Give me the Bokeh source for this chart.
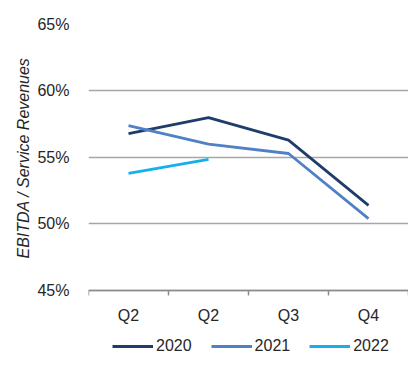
from bokeh.plotting import figure
from bokeh.models import FixedTicker, Legend, LegendItem, Range1d, Title
from bokeh.embed import file_html
from bokeh.resources import INLINE

categories = ["Q2", "Q2", "Q3", "Q4"]
s2020 = [56.8, 58.0, 56.3, 51.4]
s2021 = [57.4, 56.0, 55.3, 50.4]
s2022 = [53.8, 54.85]
years = ["2020", "2021", "2022"]
colors = ["#1F3D6B", "#4F81C4", "#14B0EE"]
y_ticks = [45, 50, 55, 60, 65]
y_label = "EBITDA / Service Revenues"

xs = [i + 0.5 for i in range(len(categories))]

# frame extends below the 45% axis to hold the category labels and legend
p = figure(frame_width=320, frame_height=343, output_backend="svg", toolbar_location=None,
           x_range=Range1d(0, len(categories)), y_range=Range1d(39.21, 65),
           min_border_left=88, min_border_right=0, min_border_top=24, min_border_bottom=0)
p.outline_line_color = None
p.background_fill_color = "white"
p.border_fill_color = "white"

renderers = []
for name, vals, c in zip(years, [s2020, s2021, s2022], colors):
    r = p.line(xs[:len(vals)], vals, line_color=c, line_width=2.8)
    renderers.append((name, r))

# y axis
p.yaxis.ticker = FixedTicker(ticks=y_ticks)
p.yaxis.major_label_overrides = {t: f"{t}%" for t in y_ticks}
p.yaxis.axis_line_color = None
p.yaxis.major_tick_line_color = None
p.yaxis.minor_tick_line_color = None
p.yaxis.major_tick_out = 0
p.yaxis.major_label_standoff = 19
p.yaxis.major_label_text_font = "Liberation Sans"
p.yaxis.major_label_text_font_size = "16px"
p.yaxis.major_label_text_color = "#262626"
p.ygrid.grid_line_color = "#A6A6A6"
p.ygrid.grid_line_width = 1.5

p.add_layout(Title(text=y_label, align="left", offset=109, standoff=6,
                   text_font="Liberation Sans", text_font_style="italic",
                   text_font_size="16px", text_color="#262626"), "left")

# x axis fixed at 45%
p.xaxis.fixed_location = 45
p.xaxis.ticker = FixedTicker(ticks=xs, minor_ticks=list(range(len(categories) + 1)))
p.xaxis.major_label_overrides = {x: c for x, c in zip(xs, categories)}
p.xaxis.major_tick_line_color = None
p.xaxis.minor_tick_line_color = "#8C8C8C"
p.xaxis.minor_tick_out = 5
p.xaxis.minor_tick_in = 0
p.xaxis.minor_tick_line_width = 1.5
p.xaxis.axis_line_color = "#8C8C8C"
p.xaxis.axis_line_width = 1.5
p.xaxis.major_label_standoff = 11
p.xaxis.major_label_text_font = "Liberation Sans"
p.xaxis.major_label_text_font_size = "16px"
p.xaxis.major_label_text_color = "#262626"
p.xgrid.grid_line_color = None

legend = Legend(items=[LegendItem(label=n, renderers=[r]) for n, r in renderers],
                orientation="horizontal", location=(24, 12),
                label_text_font="Liberation Sans", label_text_font_size="16px",
                label_text_color="#262626", glyph_width=41, glyph_height=16,
                label_height=16, label_standoff=3, spacing=19, border_line_color=None,
                background_fill_alpha=0, padding=0, margin=0)
p.add_layout(legend, "center")

open("out.html", "w").write(file_html(p, INLINE))
